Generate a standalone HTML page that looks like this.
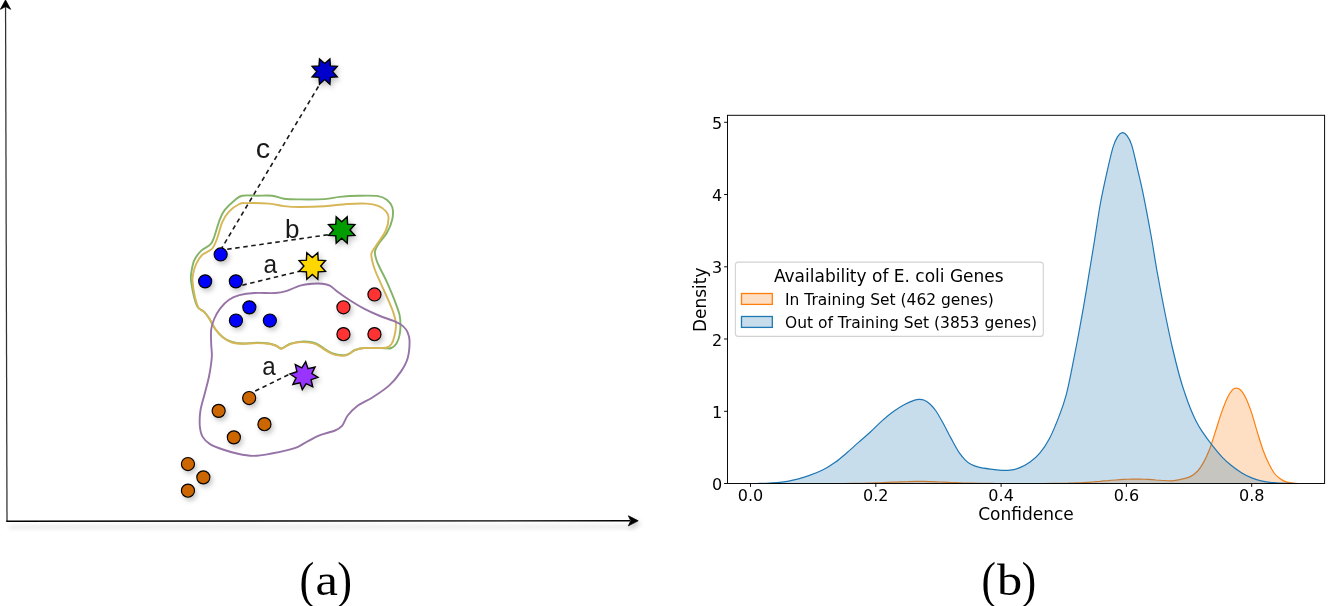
<!DOCTYPE html>
<html lang="en"><head><meta charset="utf-8"><title>Figure</title>
<style>
html,body{margin:0;padding:0;background:#fff;}
body{width:1342px;height:606px;overflow:hidden;position:relative;}
svg{position:absolute;left:0;top:0;display:block;}
.dj{font-family:"DejaVu Sans","Liberation Sans",sans-serif;fill:#000;}
.hv{font-family:"Liberation Sans",Arial,Helvetica,sans-serif;fill:#1a1a1a;}
.cm{font-family:"Liberation Serif","DejaVu Serif",serif;fill:#000;}
.sh{filter:drop-shadow(2.6px 3.8px 2.5px rgba(0,0,0,0.22));}
.shx{filter:drop-shadow(3px 6.6px 2px rgba(0,0,0,0.22));}
</style></head><body>
<svg width="1342" height="606" viewBox="0 0 1342 606">
<rect width="1342" height="606" fill="#fff"/>

<g id="diagram">
<g stroke="#000" stroke-width="1.3" fill="none">
<line x1="5.55" y1="6" x2="7.0" y2="521.7" stroke-width="1.25" stroke="#303030"/>
<line class="shx" x1="6.3" y1="521.2" x2="630" y2="520.8" stroke-width="1.45"/>
</g>
<path d="M5.5,0 L10.6,9.3 L5.6,6.6 L0.4,9.3 Z" fill="#000" stroke="#000" stroke-width="0.8" stroke-linejoin="miter"/>
<path class="sh" d="M638.2,520.8 L628.4,525.8 L630.8,520.8 L628.4,515.8 Z" fill="#000" stroke="#000" stroke-width="0.8"/>
<path d="M191.1,274.1C191.6,270.6 192.5,264.5 194.1,260.7C195.7,256.9 198.1,253.8 200.8,251.1C203.5,248.4 208.2,246.8 210.4,244.4C212.6,242.1 212.7,241.0 214.2,237.0C215.7,233.0 217.7,225.1 219.4,220.6C221.1,216.1 222.0,213.6 224.6,210.2C227.2,206.8 232.0,202.3 235.0,199.9C238.0,197.5 238.7,196.4 242.4,195.7C246.1,195.0 252.2,195.7 257.2,195.7C262.1,195.7 267.6,195.2 272.1,195.7C276.6,196.2 279.4,198.1 284.0,198.7C288.6,199.3 293.2,199.3 300.0,199.4C306.8,199.5 318.1,199.5 324.7,199.1C331.3,198.7 333.9,197.5 339.6,196.9C345.3,196.3 352.5,195.8 358.9,195.7C365.3,195.6 373.5,195.4 378.2,196.1C382.9,196.8 384.8,198.0 387.1,199.9C389.5,201.8 391.4,204.1 392.3,207.3C393.2,210.5 393.2,215.0 392.3,219.2C391.4,223.4 389.5,228.3 387.1,232.5C384.8,236.7 380.2,241.2 378.2,244.4C376.2,247.6 375.1,249.1 374.9,251.8C374.6,254.5 375.7,257.7 376.7,260.7C377.7,263.7 379.2,266.5 380.9,270.0C382.6,273.5 384.6,276.9 386.8,281.9C389.0,286.8 392.2,294.2 394.3,299.7C396.4,305.1 398.5,310.4 399.5,314.6C400.5,318.8 400.5,321.5 400.5,325.0C400.5,328.5 400.2,332.3 399.5,335.4C398.8,338.5 397.9,341.4 396.5,343.5C395.1,345.6 393.2,347.2 391.3,348.0C389.4,348.8 387.8,348.3 385.3,348.3C382.8,348.3 379.9,348.1 376.4,348.0C372.8,347.9 367.6,347.7 364.0,348.0C360.4,348.3 358.0,348.8 355.0,350.0C352.0,351.2 349.6,354.3 346.1,355.0C342.7,355.7 337.8,354.9 334.3,354.0C330.8,353.1 328.3,351.1 325.3,349.4C322.3,347.6 319.4,344.8 316.4,343.5C313.4,342.2 310.5,342.0 307.5,341.7C304.5,341.4 301.6,341.5 298.6,341.9C295.6,342.3 292.6,342.9 289.7,344.0C286.8,345.1 283.7,348.2 281.5,348.5C279.3,348.8 278.6,346.6 276.5,345.8C274.4,345.0 272.1,344.0 268.9,343.5C265.7,343.0 261.6,342.8 257.2,342.8C252.8,342.8 246.6,343.6 242.4,343.5C238.2,343.4 235.3,343.1 232.0,342.0C228.7,340.9 225.6,339.4 222.8,337.2C220.0,335.0 217.5,332.1 215.2,329.0C212.9,325.9 211.1,321.5 209.2,318.6C207.3,315.7 205.9,313.6 204.0,311.7C202.1,309.8 199.5,309.8 197.8,307.3C196.1,304.8 195.1,300.9 194.0,296.7C192.9,292.5 191.7,285.7 191.2,281.9C190.7,278.1 190.6,277.6 191.1,274.1Z" fill="none" stroke="#82B366" stroke-width="1.9" stroke-linejoin="round"/>
<path d="M193.1,274.1C193.7,271.1 194.8,266.9 196.3,263.7C197.8,260.5 199.7,257.3 202.3,254.8C204.9,252.3 209.4,251.6 211.9,248.9C214.4,246.2 215.4,243.0 217.1,238.5C218.8,234.0 220.3,226.6 222.3,222.1C224.3,217.6 226.2,214.7 229.0,211.7C231.8,208.7 236.4,205.4 239.4,204.0C242.4,202.6 241.9,203.2 246.8,203.1C251.8,203.0 262.9,203.1 269.1,203.6C275.3,204.1 278.9,205.5 284.0,206.1C289.1,206.7 293.2,207.0 300.0,207.0C306.8,207.0 316.9,206.7 324.7,206.2C332.5,205.7 340.1,204.4 347.0,204.0C353.9,203.6 361.1,203.3 366.3,203.6C371.5,203.9 375.0,204.6 378.2,205.8C381.4,207.0 383.9,209.0 385.6,211.0C387.3,213.0 388.6,214.4 388.6,217.7C388.6,221.0 387.7,226.3 385.6,231.0C383.5,235.7 378.2,242.2 375.9,245.9C373.5,249.6 372.1,250.8 371.5,253.3C370.9,255.8 371.6,257.9 372.2,260.7C372.8,263.5 373.8,266.7 375.0,270.0C376.2,273.3 377.4,275.9 379.4,280.4C381.4,284.8 384.4,291.2 386.8,296.7C389.2,302.1 392.0,308.4 393.5,313.1C395.0,317.8 395.9,321.1 396.0,325.0C396.1,328.9 395.1,333.6 394.3,336.8C393.5,340.0 392.6,342.5 391.3,344.3C390.1,346.1 389.3,346.9 386.8,347.5C384.3,348.1 380.2,347.9 376.4,348.0C372.6,348.1 367.6,347.6 364.0,348.0C360.4,348.4 358.0,349.0 355.0,350.2C352.0,351.4 349.6,354.6 346.1,355.4C342.7,356.1 337.8,355.6 334.3,354.7C330.8,353.8 328.3,351.9 325.3,350.2C322.3,348.5 319.4,345.6 316.4,344.3C313.4,343.0 310.5,342.7 307.5,342.4C304.5,342.1 301.6,342.0 298.6,342.3C295.6,342.6 292.6,343.2 289.7,344.3C286.8,345.4 283.7,348.4 281.5,348.7C279.3,349.0 278.6,346.8 276.5,346.0C274.4,345.2 272.1,344.3 268.9,343.8C265.7,343.3 261.6,343.1 257.2,343.1C252.8,343.1 246.6,343.9 242.4,343.8C238.2,343.7 235.2,343.5 232.0,342.5C228.8,341.5 225.8,339.8 223.1,337.6C220.4,335.4 217.8,332.5 215.6,329.4C213.4,326.3 211.5,321.9 209.7,319.0C207.8,316.1 206.3,314.2 204.5,312.3C202.7,310.4 200.2,310.5 198.6,307.9C197.0,305.3 195.9,301.0 194.9,296.7C193.9,292.4 192.9,285.7 192.6,281.9C192.3,278.1 192.5,277.1 193.1,274.1Z" fill="none" stroke="#D6B656" stroke-width="1.9" stroke-linejoin="round"/>
<path d="M211.2,329.4C211.7,325.2 212.7,322.5 214.2,319.0C215.7,315.5 217.6,311.8 220.1,308.6C222.6,305.4 225.8,301.9 229.0,299.7C232.2,297.5 235.2,296.3 239.4,295.2C243.6,294.1 248.4,293.4 254.3,293.0C260.2,292.6 269.7,293.4 275.1,293.0C280.5,292.6 282.8,292.0 286.9,290.8C291.0,289.6 295.8,286.8 300.0,285.6C304.2,284.4 308.3,284.0 312.0,283.7C315.7,283.4 319.4,283.4 322.4,283.7C325.4,284.0 327.3,284.3 329.8,285.6C332.3,286.9 334.0,289.1 337.2,291.5C340.4,293.9 344.6,296.8 349.1,299.7C353.6,302.6 358.9,305.9 364.0,308.6C369.1,311.3 374.9,313.9 380.0,316.0C385.1,318.1 390.4,319.5 394.3,321.2C398.2,322.9 401.0,324.5 403.2,326.4C405.4,328.3 406.5,329.9 407.6,332.4C408.7,334.9 409.6,337.1 409.6,341.3C409.6,345.5 409.2,352.6 407.8,357.7C406.4,362.8 404.0,367.0 400.9,371.6C397.8,376.2 393.9,381.2 389.3,385.4C384.7,389.6 378.6,393.5 373.2,397.0C367.8,400.5 361.2,403.1 357.0,406.2C352.8,409.3 350.2,412.2 347.7,415.5C345.2,418.8 344.1,423.4 342.0,425.9C339.9,428.4 338.7,429.0 335.0,430.5C331.3,432.0 324.4,433.4 320.0,435.1C315.6,436.8 312.2,438.9 308.5,440.9C304.8,442.8 301.3,445.3 298.0,446.8C294.7,448.3 293.1,448.6 288.5,449.8C283.9,451.0 276.1,452.8 270.2,453.8C264.3,454.8 258.4,455.9 253.0,455.9C247.6,455.9 243.0,454.9 238.0,453.8C233.0,452.7 227.6,451.1 222.9,449.5C218.2,447.9 213.4,446.2 210.0,444.1C206.6,442.0 204.2,439.6 202.5,436.6C200.8,433.6 200.2,430.2 199.8,425.9C199.5,421.6 199.6,416.2 200.4,410.8C201.2,405.4 203.3,399.4 204.7,393.7C206.1,388.0 207.8,382.6 209.0,376.5C210.2,370.4 211.4,362.6 211.8,357.2C212.2,351.8 211.3,348.9 211.2,344.3C211.1,339.7 210.7,333.6 211.2,329.4Z" fill="none" stroke="#9673A6" stroke-width="1.9" stroke-linejoin="round"/>
<g stroke="#1a1a1a" stroke-width="1.6" stroke-dasharray="4.5 3.6" fill="none">
<line x1="318.4" y1="86.5" x2="221.8" y2="248"/>
<line x1="227.2" y1="249.3" x2="329" y2="234.6"/>
<line x1="242.3" y1="285.2" x2="299.5" y2="271.3"/>
<line x1="255.2" y1="391" x2="291" y2="373.5"/>
</g>
<g class="sh" stroke="#000" stroke-width="1.15" transform="translate(0.15,0.15)">
<circle cx="205.0" cy="281.2" r="6.55" fill="#0000FF"/>
<circle cx="220.5" cy="254.3" r="6.55" fill="#0000FF"/>
<circle cx="235.7" cy="281.2" r="6.55" fill="#0000FF"/>
<circle cx="249.2" cy="307.2" r="6.55" fill="#0000FF"/>
<circle cx="235.8" cy="320.4" r="6.55" fill="#0000FF"/>
<circle cx="269.7" cy="320.4" r="6.55" fill="#0000FF"/>
<circle cx="374.3" cy="294.3" r="6.55" fill="#FF3333"/>
<circle cx="343.3" cy="307.1" r="6.55" fill="#FF3333"/>
<circle cx="343.3" cy="334.0" r="6.55" fill="#FF3333"/>
<circle cx="374.3" cy="334.0" r="6.55" fill="#FF3333"/>
<circle cx="249.0" cy="397.9" r="6.55" fill="#CC6600"/>
<circle cx="218.5" cy="410.7" r="6.55" fill="#CC6600"/>
<circle cx="264.3" cy="424.0" r="6.55" fill="#CC6600"/>
<circle cx="233.7" cy="437.2" r="6.55" fill="#CC6600"/>
<circle cx="187.8" cy="463.9" r="6.55" fill="#CC6600"/>
<circle cx="203.2" cy="477.2" r="6.55" fill="#CC6600"/>
<circle cx="187.8" cy="490.5" r="6.55" fill="#CC6600"/>
</g>
<g class="sh" stroke="#000" stroke-width="1.4" stroke-linejoin="miter">
<polygon points="329.9,59.0 330.4,65.9 337.3,66.4 332.7,71.6 337.3,76.8 330.4,77.3 329.9,84.2 324.7,79.6 319.5,84.2 319.0,77.3 312.1,76.8 316.7,71.6 312.1,66.4 319.0,65.9 319.5,59.0 324.7,63.6" fill="#0000CC"/>
<polygon points="347.2,216.8 347.6,224.1 354.9,224.5 350.0,230.0 354.9,235.5 347.6,235.9 347.2,243.2 341.7,238.3 336.2,243.2 335.8,235.9 328.5,235.5 333.4,230.0 328.5,224.5 335.8,224.1 336.2,216.8 341.7,221.7" fill="#009C00"/>
<polygon points="317.8,252.8 318.2,260.1 325.5,260.5 320.7,266.0 325.5,271.5 318.2,271.9 317.8,279.2 312.3,274.4 306.8,279.2 306.4,271.9 299.1,271.5 303.9,266.0 299.1,260.5 306.4,260.1 306.8,252.8 312.3,257.6" fill="#FFD700"/>
<polygon points="305.7,361.7 308.0,368.6 315.1,367.0 311.9,373.5 318.0,377.4 311.1,379.7 312.7,386.8 306.2,383.6 302.3,389.7 300.0,382.8 292.9,384.4 296.1,377.9 290.0,374.0 296.9,371.7 295.3,364.6 301.8,367.8" fill="#9933FF"/>
</g>
<text class="hv" font-size="27" transform="translate(255.7,158.3) scale(1.07,1)">c</text>
<text class="hv" font-size="26" x="284.9" y="237.9">b</text>
<text class="hv" font-size="26" transform="translate(263.5,273.2) scale(0.94,1)">a</text>
<text class="hv" font-size="26" transform="translate(262.2,374.5) scale(0.93,1)">a</text>
<text class="cm" font-size="51.6" transform="translate(299.6,596.7) scale(0.86,1)">(</text>
<text class="cm" font-size="43.5" transform="translate(315.6,595.1) scale(1.16,1)">a</text>
<text class="cm" font-size="51.6" transform="translate(337.2,596.7) scale(0.86,1)">)</text>
</g>
<g id="chart">
<clipPath id="axclip"><rect x="727.5" y="115.3" width="597.1" height="368.2"/></clipPath>
<g clip-path="url(#axclip)">
<path d="M836.0,483.5C837.3,483.5 841.3,483.5 844.0,483.5C846.7,483.4 849.3,483.4 852.0,483.4C854.7,483.4 857.3,483.3 860.0,483.3C862.7,483.3 865.3,483.2 868.0,483.1C870.7,483.1 873.3,483.0 876.0,482.9C878.7,482.8 881.3,482.7 884.0,482.6C886.7,482.5 889.3,482.3 892.0,482.2C894.7,482.1 897.3,482.0 900.0,481.8C902.7,481.7 905.3,481.6 908.0,481.6C910.7,481.5 913.3,481.4 916.0,481.4C918.7,481.4 921.3,481.4 924.0,481.4C926.7,481.5 929.3,481.6 932.0,481.6C934.7,481.7 937.3,481.9 940.0,482.0C942.7,482.1 945.3,482.2 948.0,482.3C950.7,482.5 953.3,482.6 956.0,482.7C958.7,482.8 961.3,482.9 964.0,483.0C966.7,483.1 969.3,483.1 972.0,483.2C974.7,483.3 977.3,483.3 980.0,483.3C982.7,483.4 985.3,483.4 988.0,483.4C990.7,483.4 993.3,483.5 996.0,483.5C998.7,483.5 1001.3,483.5 1004.0,483.5C1006.7,483.5 1009.3,483.5 1012.0,483.5C1014.7,483.5 1017.3,483.5 1020.0,483.5C1022.7,483.5 1025.3,483.5 1028.0,483.5C1030.7,483.5 1033.3,483.5 1036.0,483.5C1038.7,483.5 1041.3,483.5 1044.0,483.5C1046.7,483.4 1049.3,483.4 1052.0,483.4C1054.7,483.4 1057.3,483.4 1060.0,483.3C1062.7,483.3 1065.3,483.2 1068.0,483.2C1070.7,483.1 1073.3,483.0 1076.0,482.9C1078.7,482.8 1081.3,482.7 1084.0,482.5C1086.7,482.4 1089.3,482.2 1092.0,482.0C1094.7,481.8 1097.3,481.6 1100.0,481.4C1102.7,481.1 1105.3,480.9 1108.0,480.7C1110.7,480.4 1113.3,480.2 1116.0,480.0C1118.7,479.8 1121.3,479.6 1124.0,479.4C1126.7,479.3 1129.3,479.2 1132.0,479.1C1134.7,479.1 1137.3,479.1 1140.0,479.1C1142.7,479.2 1145.3,479.3 1148.0,479.4C1150.7,479.6 1153.3,479.8 1156.0,480.0C1158.7,480.1 1161.3,480.4 1164.0,480.5C1166.7,480.7 1169.3,480.9 1172.0,480.8C1174.7,480.6 1176.9,480.2 1179.9,479.6C1182.9,479.0 1186.8,478.3 1189.8,476.9C1192.8,475.5 1195.4,473.5 1197.7,471.0C1200.0,468.5 1201.7,465.7 1203.7,462.1C1205.7,458.5 1207.6,454.3 1209.6,449.2C1211.6,444.1 1213.5,437.5 1215.5,431.4C1217.5,425.3 1219.5,418.2 1221.5,412.6C1223.5,407.0 1225.6,401.5 1227.4,397.7C1229.2,393.9 1230.9,391.4 1232.4,389.8C1233.9,388.2 1235.0,388.2 1236.3,388.2C1237.6,388.2 1238.8,388.4 1240.3,389.8C1241.8,391.2 1243.4,393.1 1245.2,396.7C1247.0,400.3 1249.2,405.8 1251.2,411.6C1253.2,417.4 1255.1,425.0 1257.1,431.4C1259.1,437.8 1261.1,444.8 1263.1,450.2C1265.1,455.6 1267.0,460.1 1269.0,464.1C1271.0,468.1 1272.9,471.5 1274.9,474.0C1276.9,476.5 1278.9,477.9 1280.9,479.3C1282.9,480.7 1284.5,481.4 1286.8,482.1C1289.1,482.8 1292.6,483.1 1294.8,483.3C1297.0,483.5 1299.1,483.5 1300.0,483.5L1300.0,483.5L836.0,483.5Z" fill="#ff7f0e" fill-opacity="0.25" stroke="none"/>
<path d="M836.0,483.5C837.3,483.5 841.3,483.5 844.0,483.5C846.7,483.4 849.3,483.4 852.0,483.4C854.7,483.4 857.3,483.3 860.0,483.3C862.7,483.3 865.3,483.2 868.0,483.1C870.7,483.1 873.3,483.0 876.0,482.9C878.7,482.8 881.3,482.7 884.0,482.6C886.7,482.5 889.3,482.3 892.0,482.2C894.7,482.1 897.3,482.0 900.0,481.8C902.7,481.7 905.3,481.6 908.0,481.6C910.7,481.5 913.3,481.4 916.0,481.4C918.7,481.4 921.3,481.4 924.0,481.4C926.7,481.5 929.3,481.6 932.0,481.6C934.7,481.7 937.3,481.9 940.0,482.0C942.7,482.1 945.3,482.2 948.0,482.3C950.7,482.5 953.3,482.6 956.0,482.7C958.7,482.8 961.3,482.9 964.0,483.0C966.7,483.1 969.3,483.1 972.0,483.2C974.7,483.3 977.3,483.3 980.0,483.3C982.7,483.4 985.3,483.4 988.0,483.4C990.7,483.4 993.3,483.5 996.0,483.5C998.7,483.5 1001.3,483.5 1004.0,483.5C1006.7,483.5 1009.3,483.5 1012.0,483.5C1014.7,483.5 1017.3,483.5 1020.0,483.5C1022.7,483.5 1025.3,483.5 1028.0,483.5C1030.7,483.5 1033.3,483.5 1036.0,483.5C1038.7,483.5 1041.3,483.5 1044.0,483.5C1046.7,483.4 1049.3,483.4 1052.0,483.4C1054.7,483.4 1057.3,483.4 1060.0,483.3C1062.7,483.3 1065.3,483.2 1068.0,483.2C1070.7,483.1 1073.3,483.0 1076.0,482.9C1078.7,482.8 1081.3,482.7 1084.0,482.5C1086.7,482.4 1089.3,482.2 1092.0,482.0C1094.7,481.8 1097.3,481.6 1100.0,481.4C1102.7,481.1 1105.3,480.9 1108.0,480.7C1110.7,480.4 1113.3,480.2 1116.0,480.0C1118.7,479.8 1121.3,479.6 1124.0,479.4C1126.7,479.3 1129.3,479.2 1132.0,479.1C1134.7,479.1 1137.3,479.1 1140.0,479.1C1142.7,479.2 1145.3,479.3 1148.0,479.4C1150.7,479.6 1153.3,479.8 1156.0,480.0C1158.7,480.1 1161.3,480.4 1164.0,480.5C1166.7,480.7 1169.3,480.9 1172.0,480.8C1174.7,480.6 1176.9,480.2 1179.9,479.6C1182.9,479.0 1186.8,478.3 1189.8,476.9C1192.8,475.5 1195.4,473.5 1197.7,471.0C1200.0,468.5 1201.7,465.7 1203.7,462.1C1205.7,458.5 1207.6,454.3 1209.6,449.2C1211.6,444.1 1213.5,437.5 1215.5,431.4C1217.5,425.3 1219.5,418.2 1221.5,412.6C1223.5,407.0 1225.6,401.5 1227.4,397.7C1229.2,393.9 1230.9,391.4 1232.4,389.8C1233.9,388.2 1235.0,388.2 1236.3,388.2C1237.6,388.2 1238.8,388.4 1240.3,389.8C1241.8,391.2 1243.4,393.1 1245.2,396.7C1247.0,400.3 1249.2,405.8 1251.2,411.6C1253.2,417.4 1255.1,425.0 1257.1,431.4C1259.1,437.8 1261.1,444.8 1263.1,450.2C1265.1,455.6 1267.0,460.1 1269.0,464.1C1271.0,468.1 1272.9,471.5 1274.9,474.0C1276.9,476.5 1278.9,477.9 1280.9,479.3C1282.9,480.7 1284.5,481.4 1286.8,482.1C1289.1,482.8 1292.6,483.1 1294.8,483.3C1297.0,483.5 1299.1,483.5 1300.0,483.5" fill="none" stroke="#ff7f0e" stroke-width="1.2"/>
<path d="M757.0,483.5C759.1,483.4 764.1,483.5 769.4,483.1C774.7,482.7 782.2,482.3 788.7,481.1C795.2,479.9 802.3,477.8 808.1,475.9C813.9,474.0 819.1,471.8 823.6,469.5C828.1,467.2 831.3,465.1 835.2,462.3C839.1,459.5 843.0,456.0 846.9,452.7C850.8,449.4 854.6,445.8 858.5,442.4C862.4,439.0 866.2,435.9 870.1,432.3C874.0,428.8 877.8,424.6 881.7,421.1C885.6,417.6 889.5,414.2 893.4,411.4C897.3,408.6 901.5,406.1 905.0,404.2C908.5,402.3 912.3,400.9 914.7,400.1C917.1,399.3 917.9,399.4 919.5,399.4C921.1,399.4 922.6,399.5 924.4,400.3C926.2,401.1 928.3,402.4 930.2,404.2C932.1,406.0 933.8,407.7 936.0,411.0C938.2,414.3 941.1,419.5 943.7,424.2C946.3,428.9 948.9,434.4 951.5,439.1C954.1,443.9 956.9,449.2 959.2,452.7C961.5,456.1 963.2,457.9 965.1,459.8C967.0,461.7 968.6,463.1 970.9,464.3C973.1,465.5 975.4,466.4 978.6,467.2C981.8,468.0 986.3,468.6 990.2,469.1C994.1,469.6 998.6,470.1 1001.9,470.3C1005.2,470.5 1006.9,470.6 1009.9,470.2C1012.9,469.8 1016.5,468.9 1019.8,467.6C1023.1,466.3 1026.4,464.7 1029.7,462.3C1033.0,459.9 1036.3,457.4 1039.6,453.4C1042.9,449.4 1046.2,444.8 1049.5,438.5C1052.8,432.2 1056.7,422.5 1059.4,415.4C1062.2,408.2 1063.9,403.3 1066.0,395.6C1068.1,387.9 1069.9,378.5 1071.8,369.2C1073.7,359.9 1075.6,350.0 1077.5,340.0C1079.4,330.0 1081.2,320.2 1083.1,309.3C1085.0,298.4 1087.0,286.2 1088.9,274.7C1090.8,263.2 1092.6,252.3 1094.5,240.5C1096.4,228.7 1098.2,215.6 1100.3,204.0C1102.4,192.4 1105.1,180.5 1107.2,171.1C1109.3,161.7 1111.2,153.3 1112.9,147.6C1114.6,141.8 1116.0,139.1 1117.6,136.6C1119.2,134.1 1120.7,132.8 1122.3,132.6C1123.9,132.4 1125.4,133.6 1127.0,135.7C1128.6,137.8 1130.0,140.0 1131.7,145.1C1133.4,150.2 1135.0,158.2 1136.9,166.4C1138.8,174.7 1141.0,183.3 1143.3,194.6C1145.6,205.9 1148.5,221.3 1150.8,234.0C1153.1,246.7 1154.8,258.7 1157.0,271.0C1159.2,283.3 1161.5,295.5 1164.0,308.0C1166.5,320.5 1169.4,334.7 1172.0,346.0C1174.6,357.3 1177.4,368.2 1179.5,376.0C1181.6,383.8 1183.0,387.8 1184.8,393.0C1186.5,398.2 1188.1,402.8 1190.0,407.5C1191.9,412.2 1194.0,417.0 1196.0,421.0C1198.0,425.0 1199.4,427.4 1202.1,431.4C1204.8,435.4 1208.8,440.9 1212.1,445.2C1215.4,449.5 1218.8,453.6 1222.1,457.1C1225.4,460.6 1228.7,463.4 1232.0,466.0C1235.3,468.6 1238.6,471.0 1241.9,473.0C1245.2,475.0 1248.5,476.6 1251.7,477.9C1254.9,479.2 1257.5,480.1 1261.1,480.9C1264.6,481.7 1268.4,482.3 1273.0,482.7C1277.6,483.1 1284.6,483.3 1288.8,483.4C1293.0,483.5 1296.5,483.5 1298.0,483.5L1298.0,483.5L757.0,483.5Z" fill="#1f77b4" fill-opacity="0.25" stroke="none"/>
<path d="M757.0,483.5C759.1,483.4 764.1,483.5 769.4,483.1C774.7,482.7 782.2,482.3 788.7,481.1C795.2,479.9 802.3,477.8 808.1,475.9C813.9,474.0 819.1,471.8 823.6,469.5C828.1,467.2 831.3,465.1 835.2,462.3C839.1,459.5 843.0,456.0 846.9,452.7C850.8,449.4 854.6,445.8 858.5,442.4C862.4,439.0 866.2,435.9 870.1,432.3C874.0,428.8 877.8,424.6 881.7,421.1C885.6,417.6 889.5,414.2 893.4,411.4C897.3,408.6 901.5,406.1 905.0,404.2C908.5,402.3 912.3,400.9 914.7,400.1C917.1,399.3 917.9,399.4 919.5,399.4C921.1,399.4 922.6,399.5 924.4,400.3C926.2,401.1 928.3,402.4 930.2,404.2C932.1,406.0 933.8,407.7 936.0,411.0C938.2,414.3 941.1,419.5 943.7,424.2C946.3,428.9 948.9,434.4 951.5,439.1C954.1,443.9 956.9,449.2 959.2,452.7C961.5,456.1 963.2,457.9 965.1,459.8C967.0,461.7 968.6,463.1 970.9,464.3C973.1,465.5 975.4,466.4 978.6,467.2C981.8,468.0 986.3,468.6 990.2,469.1C994.1,469.6 998.6,470.1 1001.9,470.3C1005.2,470.5 1006.9,470.6 1009.9,470.2C1012.9,469.8 1016.5,468.9 1019.8,467.6C1023.1,466.3 1026.4,464.7 1029.7,462.3C1033.0,459.9 1036.3,457.4 1039.6,453.4C1042.9,449.4 1046.2,444.8 1049.5,438.5C1052.8,432.2 1056.7,422.5 1059.4,415.4C1062.2,408.2 1063.9,403.3 1066.0,395.6C1068.1,387.9 1069.9,378.5 1071.8,369.2C1073.7,359.9 1075.6,350.0 1077.5,340.0C1079.4,330.0 1081.2,320.2 1083.1,309.3C1085.0,298.4 1087.0,286.2 1088.9,274.7C1090.8,263.2 1092.6,252.3 1094.5,240.5C1096.4,228.7 1098.2,215.6 1100.3,204.0C1102.4,192.4 1105.1,180.5 1107.2,171.1C1109.3,161.7 1111.2,153.3 1112.9,147.6C1114.6,141.8 1116.0,139.1 1117.6,136.6C1119.2,134.1 1120.7,132.8 1122.3,132.6C1123.9,132.4 1125.4,133.6 1127.0,135.7C1128.6,137.8 1130.0,140.0 1131.7,145.1C1133.4,150.2 1135.0,158.2 1136.9,166.4C1138.8,174.7 1141.0,183.3 1143.3,194.6C1145.6,205.9 1148.5,221.3 1150.8,234.0C1153.1,246.7 1154.8,258.7 1157.0,271.0C1159.2,283.3 1161.5,295.5 1164.0,308.0C1166.5,320.5 1169.4,334.7 1172.0,346.0C1174.6,357.3 1177.4,368.2 1179.5,376.0C1181.6,383.8 1183.0,387.8 1184.8,393.0C1186.5,398.2 1188.1,402.8 1190.0,407.5C1191.9,412.2 1194.0,417.0 1196.0,421.0C1198.0,425.0 1199.4,427.4 1202.1,431.4C1204.8,435.4 1208.8,440.9 1212.1,445.2C1215.4,449.5 1218.8,453.6 1222.1,457.1C1225.4,460.6 1228.7,463.4 1232.0,466.0C1235.3,468.6 1238.6,471.0 1241.9,473.0C1245.2,475.0 1248.5,476.6 1251.7,477.9C1254.9,479.2 1257.5,480.1 1261.1,480.9C1264.6,481.7 1268.4,482.3 1273.0,482.7C1277.6,483.1 1284.6,483.3 1288.8,483.4C1293.0,483.5 1296.5,483.5 1298.0,483.5L1298.0,483.5L757.0,483.5Z" fill="none" stroke="#1f77b4" stroke-width="1.2"/>
</g>
<rect x="727.5" y="115.3" width="597.1" height="368.2" fill="none" stroke="#000" stroke-width="0.95"/>
<g stroke="#000" stroke-width="0.95">
<line x1="724.1" y1="483.5" x2="727.5" y2="483.5"/>
<line x1="724.1" y1="411.3" x2="727.5" y2="411.3"/>
<line x1="724.1" y1="339.0" x2="727.5" y2="339.0"/>
<line x1="724.1" y1="266.8" x2="727.5" y2="266.8"/>
<line x1="724.1" y1="194.5" x2="727.5" y2="194.5"/>
<line x1="724.1" y1="122.3" x2="727.5" y2="122.3"/>
<line x1="750.5" y1="483.5" x2="750.5" y2="486.9"/>
<line x1="875.8" y1="483.5" x2="875.8" y2="486.9"/>
<line x1="1001.1" y1="483.5" x2="1001.1" y2="486.9"/>
<line x1="1126.4" y1="483.5" x2="1126.4" y2="486.9"/>
<line x1="1251.7" y1="483.5" x2="1251.7" y2="486.9"/>
</g>
<g class="dj" font-size="16">
<text x="722.2" y="490.1" text-anchor="end">0</text>
<text x="722.2" y="417.9" text-anchor="end">1</text>
<text x="722.2" y="345.6" text-anchor="end">2</text>
<text x="722.2" y="273.4" text-anchor="end">3</text>
<text x="722.2" y="201.1" text-anchor="end">4</text>
<text x="722.2" y="128.9" text-anchor="end">5</text>
<text x="750.5" y="501.2" text-anchor="middle">0.0</text>
<text x="875.8" y="501.2" text-anchor="middle">0.2</text>
<text x="1001.1" y="501.2" text-anchor="middle">0.4</text>
<text x="1126.4" y="501.2" text-anchor="middle">0.6</text>
<text x="1251.7" y="501.2" text-anchor="middle">0.8</text>
</g>
<text class="dj" font-size="17" x="1026" y="520.1" text-anchor="middle">Confidence</text>
<text class="dj" font-size="17" transform="translate(705.8,299.8) rotate(-90)" text-anchor="middle">Density</text>
<rect x="735.4" y="262.1" width="307.9" height="74.3" rx="3" ry="3" fill="#fff" fill-opacity="0.8" stroke="#d2d2d2" stroke-width="1.1"/>
<text class="dj" font-size="17" x="888.8" y="282" text-anchor="middle">Availability of E. coli Genes</text>
<rect x="741.5" y="293.5" width="30.8" height="10.9" fill="#ff7f0e" fill-opacity="0.25" stroke="none"/>
<rect x="741.5" y="293.5" width="30.8" height="10.9" fill="none" stroke="#ff7f0e" stroke-width="1.3"/>
<rect x="741.5" y="316.5" width="30.8" height="10.9" fill="#1f77b4" fill-opacity="0.25" stroke="none"/>
<rect x="741.5" y="316.5" width="30.8" height="10.9" fill="none" stroke="#1f77b4" stroke-width="1.3"/>
<text class="dj" font-size="15.47" x="785" y="304.6">In Training Set (462 genes)</text>
<text class="dj" font-size="15.47" x="785" y="327.7">Out of Training Set (3853 genes)</text>
<text class="cm" font-size="51.6" transform="translate(981.6,596.7) scale(0.84,1)">(</text>
<text class="cm" font-size="43.4" transform="translate(996.9,595.1) scale(1.16,1)">b</text>
<text class="cm" font-size="51.6" transform="translate(1021.8,596.7) scale(0.84,1)">)</text>
</g>
</svg>
</body></html>
